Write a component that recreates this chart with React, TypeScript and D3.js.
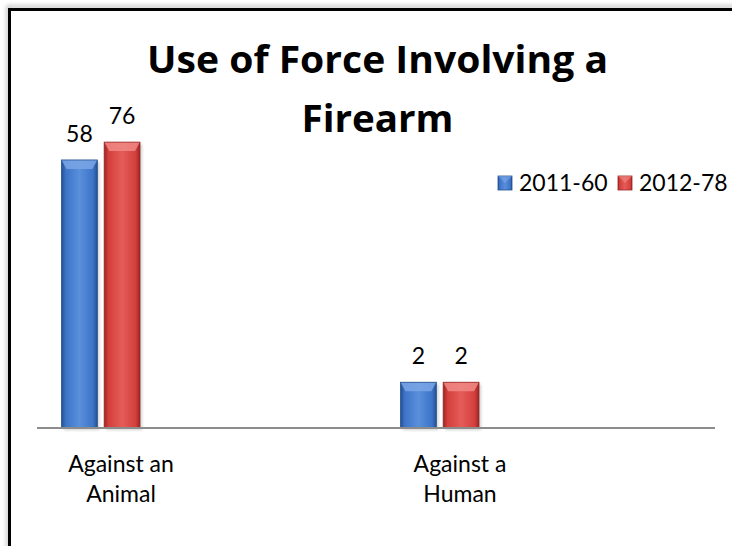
import React from "react";
import * as d3 from "d3";

const categories = ["Against an Animal", "Against a Human"];
const categoryLines = [["Against an", "Animal"], ["Against a", "Human"]];
const seriesNames = ["2011-60", "2012-78"];
const series2011 = [58, 2];
const series2012 = [76, 2];
const titleLines = ["Use of Force Involving a", "Firearm"];
const titleWidths = [461, 152];

const W = 732;
const H = 546;
const baseY = 428;
const FONT = "Lato, 'Open Sans', sans-serif";
const TITLE_FONT = "'Open Sans', Lato, sans-serif";

const palette = [
  { base: "#3D74C8", light: "#5A8FDB", dark: "#23508F", top: "#7AA6E6" },
  { base: "#D43F3C", light: "#E45C58", dark: "#982624", top: "#F08A86" },
];

export default function App() {
  const values = [series2011, series2012];

  const x = d3.scalePoint<string>().domain(categories).range([121, 460]);
  const inner = d3
    .scaleBand<string>()
    .domain(seriesNames)
    .range([-59.5, 19])
    .paddingInner(0.16);
  const y = d3.scaleLog().domain([1, 100]).range([baseY, 124]);

  return (
    <svg
      width={W}
      height={H}
      style={{ position: "absolute", left: 0, top: 0, background: "#fff" }}
      fontFamily={FONT}
    >
      <defs>
        {palette.map((p, i) => (
          <linearGradient key={i} id={`bar${i}`} x1="0" x2="1" y1="0" y2="0">
            <stop offset="0" stopColor={p.dark} />
            <stop offset="0.12" stopColor={p.base} />
            <stop offset="0.5" stopColor={p.light} />
            <stop offset="0.88" stopColor={p.base} />
            <stop offset="1" stopColor={p.dark} />
          </linearGradient>
        ))}
        <filter id="frameShadow" x="-5%" y="-5%" width="110%" height="110%">
          <feGaussianBlur stdDeviation="2" />
        </filter>
        <filter id="barShadow" x="-20%" y="-5%" width="140%" height="110%">
          <feGaussianBlur stdDeviation="1.5" />
        </filter>
      </defs>

      {/* chart frame */}
      <rect x={8} y={7} width={800} height={600} fill="none" stroke="#bbb" strokeWidth={3} filter="url(#frameShadow)" />
      <rect x={9.5} y={9.5} width={800} height={600} fill="#fff" stroke="#000" strokeWidth={3} />

      {/* title */}
      {titleLines.map((t, i) => (
        <text
          key={t}
          x={377.5}
          y={73 + i * 59}
          textAnchor="middle"
          fontSize={37}
          fontWeight={700}
          fontFamily={TITLE_FONT}
          fill="#000"
          textLength={titleWidths[i]}
          lengthAdjust="spacingAndGlyphs"
        >
          {t}
        </text>
      ))}

      {/* bars */}
      {categories.map((c, ci) => (
        <g key={c} transform={`translate(${x(c)},0)`}>
          {seriesNames.map((s, si) => {
            const v = values[si][ci];
            const bx = inner(s)!;
            const bw = inner.bandwidth();
            const top = y(v);
            const h = baseY - top;
            const p = palette[si];
            const cap = Math.min(9, h / 3);
            return (
              <g key={s}>
                <rect x={bx + 2} y={top + 2} width={bw} height={h} fill="#000" opacity={0.18} filter="url(#barShadow)" />
                <rect x={bx} y={top} width={bw} height={h} fill={`url(#bar${si})`} />
                <polygon
                  points={`${bx},${top} ${bx + bw},${top} ${bx + bw - 5},${top + cap} ${bx + 5},${top + cap}`}
                  fill={p.top}
                  opacity={0.85}
                />
                <rect x={bx} y={top} width={bw} height={h} fill="none" stroke={p.dark} strokeWidth={0.8} />
                <text
                  x={bx + bw / 2}
                  y={top - 18}
                  textAnchor="middle"
                  fontSize={23}
                  fill="#000"
                >
                  {v}
                </text>
              </g>
            );
          })}
        </g>
      ))}

      {/* category axis */}
      <line x1={37} x2={715} y1={baseY} y2={baseY} stroke="#8c8c8c" strokeWidth={2} />
      {categories.map((c, ci) => (
        <text key={c} x={x(c)} textAnchor="middle" fontSize={23} fill="#000">
          {categoryLines[ci].map((ln, li) => (
            <tspan key={ln} x={x(c)} y={472 + li * 30}>
              {ln}
            </tspan>
          ))}
        </text>
      ))}

      {/* legend */}
      {seriesNames.map((s, si) => {
        const lx = si === 0 ? 498 : 618;
        const p = palette[si];
        return (
          <g key={s}>
            <rect x={lx} y={176} width={14} height={14} fill={`url(#bar${si})`} stroke={p.dark} strokeWidth={0.8} />
            <polygon points={`${lx},${176} ${lx + 14},${176} ${lx + 7},${183}`} fill={p.top} opacity={0.6} />
            <text x={lx + 21} y={191} fontSize={23} fill="#000">
              {s}
            </text>
          </g>
        );
      })}
    </svg>
  );
}
